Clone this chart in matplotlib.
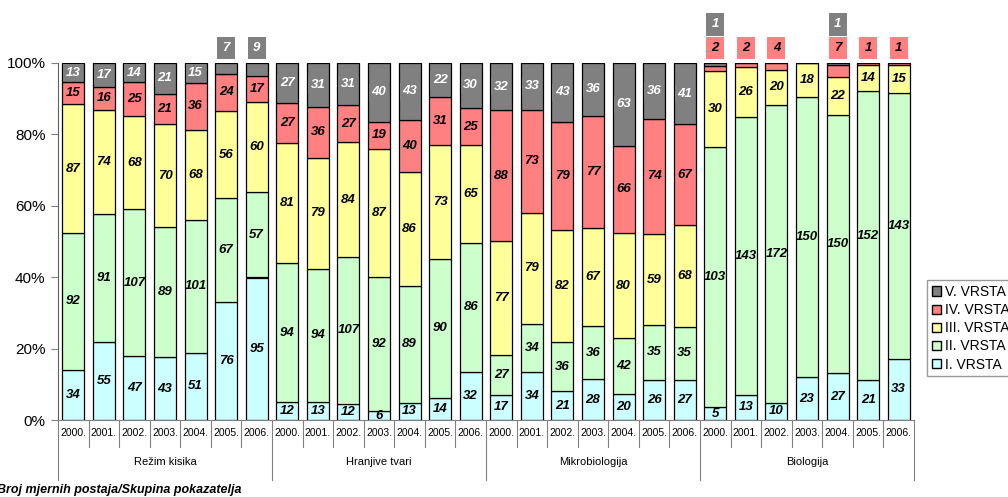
import matplotlib

matplotlib.use("Agg")
import matplotlib.pyplot as plt
from matplotlib.patches import Patch
import numpy as np

plt.rcParams["font.family"] = ["Liberation Sans", "DejaVu Sans"]

groups = ["Režim kisika", "Hranjive tvari", "Mikrobiologija", "Biologija"]
years = ["2000.", "2001.", "2002.", "2003.", "2004.", "2005.", "2006."]
classes = ["I. VRSTA", "II. VRSTA", "III. VRSTA", "IV. VRSTA", "V. VRSTA"]
colors = ["#CCFFFF", "#CCFFCC", "#FFFF99", "#FF8080", "#808080"]

# counts per bar (groups x years), one list per class
vrsta_1 = [34, 55, 47, 43, 51, 76, 95,
           12, 13, 12, 6, 13, 14, 32,
           17, 34, 21, 28, 20, 26, 27,
           5, 13, 10, 23, 27, 21, 33]
vrsta_2 = [92, 91, 107, 89, 101, 67, 57,
           94, 94, 107, 92, 89, 90, 86,
           27, 34, 36, 36, 42, 35, 35,
           103, 143, 172, 150, 150, 152, 143]
vrsta_3 = [87, 74, 68, 70, 68, 56, 60,
           81, 79, 84, 87, 86, 73, 65,
           77, 79, 82, 67, 80, 59, 68,
           30, 26, 20, 18, 22, 14, 15]
vrsta_4 = [15, 16, 25, 21, 36, 24, 17,
           27, 36, 27, 19, 40, 31, 25,
           88, 73, 79, 77, 66, 74, 67,
           2, 2, 4, 0, 7, 1, 1]
vrsta_5 = [13, 17, 14, 21, 15, 7, 9,
           27, 31, 31, 40, 43, 22, 30,
           32, 33, 43, 36, 63, 36, 41,
           1, 0, 0, 0, 1, 0, 0]

counts = np.array([vrsta_1, vrsta_2, vrsta_3, vrsta_4, vrsta_5], dtype=float)
totals = counts.sum(axis=0)
shares = counts / totals * 100
n = counts.shape[1]
x = np.arange(n)

fig = plt.figure(figsize=(10.08, 4.97), dpi=100)
ax = fig.add_axes([58 / 1008, 1 - 420 / 497, (914 - 58) / 1008, 357 / 497])

bottom = np.zeros(n)
for k in range(5):
    ax.bar(x, shares[k], 0.72, bottom=bottom, color=colors[k],
           edgecolor="black", linewidth=0.9)
    bottom += shares[k]

# data labels; tiny top segments get their label lifted above the bar
level = np.zeros(n, dtype=int)
for k in range(5):
    base = shares[:k].sum(axis=0)
    tcol = "white" if k == 4 else "black"
    for i in range(n):
        v = counts[k, i]
        if v == 0:
            continue
        s = shares[k, i]
        box = None
        if k >= 3 and s < 4:
            level[i] += 1
            y = 104.2 if level[i] == 1 else 110.8
            box = dict(boxstyle="square,pad=0.4", fc=colors[k], ec="none")
        else:
            y = base[i] + s / 2
            if k == 4:
                box = dict(boxstyle="square,pad=0.2", fc=colors[k], ec="none")
        ax.text(i, y, f"{int(v)}", ha="center", va="center", fontsize=9.5,
                fontweight="bold", fontstyle="italic", color=tcol,
                clip_on=False, bbox=box)

ax.set_xlim(-0.5, n - 0.5)
ax.set_ylim(0, 100)
ax.set_yticks(np.arange(0, 101, 20))
ax.set_yticklabels([f"{t}%" for t in range(0, 101, 20)], fontsize=11)
ax.tick_params(axis="y", length=5, color="#808080", pad=4)
ax.set_xticks([])
for side in ["top", "right"]:
    ax.spines[side].set_visible(False)
ax.spines["left"].set_color("#606060")
ax.spines["bottom"].set_color("#808080")

# two-level category axis
tr = ax.get_xaxis_transform()
for i in range(n + 1):
    depth = -0.168 if i % 7 == 0 else -0.076
    ax.plot([i - 0.5, i - 0.5], [0, depth], color="#808080", lw=0.8,
            transform=tr, clip_on=False)
for i in range(n):
    ax.text(i, -0.036, years[i % 7], ha="center", va="center", fontsize=7.5,
            transform=tr)
for g, name in enumerate(groups):
    ax.text(g * 7 + 3, -0.118, name, ha="center", va="center", fontsize=8,
            transform=tr)

fig.text(-0.003, 1 - 490 / 497, "Broj mjernih postaja/Skupina pokazatelja",
         fontsize=9, fontweight="bold", fontstyle="italic", va="center")

handles = [Patch(facecolor=colors[k], edgecolor="black", label=classes[k])
           for k in range(4, -1, -1)]
fig.legend(handles=handles, loc="upper left",
           bbox_to_anchor=(927 / 1008, 1 - 280 / 497), fontsize=10,
           frameon=True, fancybox=False, edgecolor="#808080",
           handlelength=0.65, handleheight=0.65, handletextpad=0.3,
           labelspacing=0.3, borderpad=0.35, borderaxespad=0)

fig.savefig("out.png", dpi=100)
